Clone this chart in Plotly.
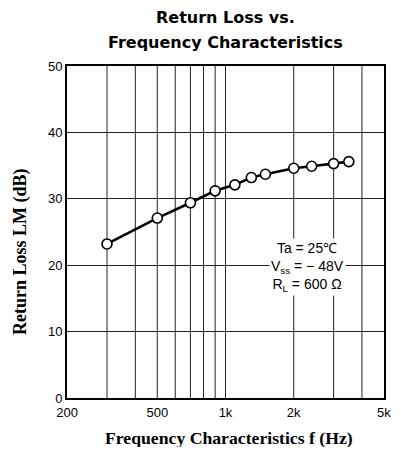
import math
import plotly.graph_objects as go

freq_hz = [300, 500, 700, 900, 1100, 1300, 1500, 2000, 2400, 3000, 3500]
return_loss_db = [23.2, 27.1, 29.4, 31.2, 32.1, 33.2, 33.7, 34.6, 34.9, 35.3, 35.6]

x_grid = [300, 400, 500, 600, 700, 800, 900, 1000, 2000, 3000, 4000]
x_tickvals = [200, 500, 1000, 2000, 5000]
x_ticktext = ["200", "500", "1k", "2k", "5k"]
y_tickvals = [0, 10, 20, 30, 40, 50]

fig = go.Figure()
fig.add_trace(go.Scatter(
    x=freq_hz, y=return_loss_db, mode="lines+markers",
    line=dict(color="black", width=2.6),
    marker=dict(symbol="circle", size=10, color="white",
                line=dict(color="black", width=1.6)),
    showlegend=False,
))

# page body has an 8px margin, so the figure is sized to fit the 401x455 window
fig.update_layout(
    width=385, height=439,
    margin=dict(l=59, r=2, t=58, b=49),
    paper_bgcolor="white", plot_bgcolor="white",
    font=dict(family="Liberation Sans, Arial, sans-serif", color="black", size=13),
    xaxis=dict(
        type="log", range=[math.log10(199.8), math.log10(5005)],
        tickvals=x_tickvals, ticktext=x_ticktext,
        showgrid=False, zeroline=False,
        showline=True, linecolor="black", linewidth=2, mirror=True,
        ticks="", tickfont=dict(size=13), ticklabelstandoff=1,
        ticklabeloverflow="allow",
    ),
    yaxis=dict(
        range=[0, 50], tickvals=y_tickvals,
        showgrid=True, gridcolor="#222", gridwidth=1,
        zeroline=False,
        showline=True, linecolor="black", linewidth=2, mirror=True,
        ticks="", tickfont=dict(size=13),
    ),
)

# vertical grid lines at log-decade subdivisions
for gx in x_grid:
    fig.add_shape(type="line", xref="x", yref="paper", x0=gx, x1=gx, y0=0, y1=1,
                  line=dict(color="#222", width=1), layer="below")

# title lines
fig.add_annotation(text="<b>Return Loss vs.</b>", xref="paper", yref="paper",
                   x=0.5, y=1, yshift=49, yanchor="middle", showarrow=False,
                   font=dict(family="DejaVu Sans, sans-serif", size=16, color="black"))
fig.add_annotation(text="<b>Frequency Characteristics</b>", xref="paper", yref="paper",
                   x=0.5, y=1, yshift=24, yanchor="middle", showarrow=False,
                   font=dict(family="DejaVu Sans, sans-serif", size=16, color="black"))

# axis titles
fig.add_annotation(text="<b>Frequency Characteristics f (Hz)</b>", xref="paper", yref="paper",
                   x=0.5, y=0, yshift=-40, xshift=3, yanchor="middle", showarrow=False,
                   font=dict(family="Liberation Serif, Times New Roman, serif", size=17.7, color="black"))
fig.add_annotation(text="<b>Return Loss LM (dB)</b>", xref="paper", yref="paper",
                   x=0, y=0.5, xshift=-47, yshift=-20, xanchor="center", yanchor="middle",
                   textangle=-90, showarrow=False,
                   font=dict(family="Liberation Serif, Times New Roman, serif", size=18, color="black"))

# conditions
fig.add_annotation(
    text="Ta = 25℃<br>V<sub>ss</sub> = − 48V<br>R<sub>L</sub> = 600 Ω",
    xref="x", yref="y", x=math.log10(2300), y=19.8, yanchor="middle", showarrow=False,
    align="center", bgcolor="white", borderpad=1,
    font=dict(family="Liberation Sans, Arial, sans-serif", size=14, color="black"),
)

fig.write_html("out.html")
